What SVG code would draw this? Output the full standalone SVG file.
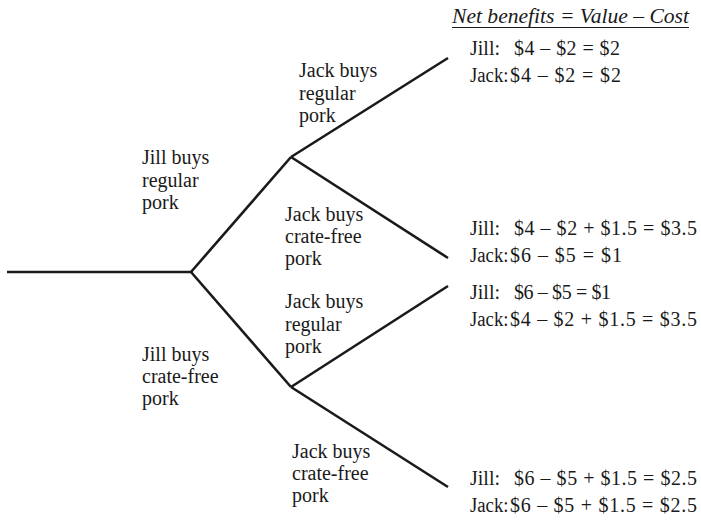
<svg xmlns="http://www.w3.org/2000/svg" width="701" height="522" viewBox="0 0 701 522">
<style>
text{font-family:"Liberation Serif","DejaVu Serif",serif;font-size:20px;fill:#1a1a1a}
.hdr{font-style:italic}
.edge{stroke:#1a1a1a;stroke-width:2.6;fill:none;stroke-linecap:butt;stroke-linejoin:miter}
</style>
<rect width="701" height="522" fill="#ffffff"/>
<g id="connectors">
<path class="edge" d="M7,272 H191"/>
<path class="edge" d="M191,272 L291,157"/>
<path class="edge" d="M191,272 L291,387"/>
<path class="edge" d="M291,157 L448,58"/>
<path class="edge" d="M291,157 L448,258"/>
<path class="edge" d="M291,387 L448,286"/>
<path class="edge" d="M291,387 L448,487"/>
</g>
<g id="header">
<text class="hdr" x="452" y="23" textLength="237" lengthAdjust="spacingAndGlyphs">Net benefits = Value – Cost</text>
<line x1="452" y1="27.5" x2="689" y2="27.5" stroke="#1a1a1a" stroke-width="1"/>
</g>
<g id="jill-regular">
<text x="142" y="164">Jill buys</text>
<text x="142" y="187">regular</text>
<text x="142" y="209">pork</text>
</g>
<g id="jill-cratefree">
<text x="142" y="361">Jill buys</text>
<text x="142" y="383">crate-free</text>
<text x="142" y="405">pork</text>
</g>
<g id="jack-regular-1">
<text x="299" y="77">Jack buys</text>
<text x="299" y="99.5">regular</text>
<text x="299" y="122">pork</text>
</g>
<g id="jack-cratefree-1">
<text x="285" y="221">Jack buys</text>
<text x="285" y="243">crate-free</text>
<text x="285" y="265">pork</text>
</g>
<g id="jack-regular-2">
<text x="285" y="308">Jack buys</text>
<text x="285" y="330.5">regular</text>
<text x="285" y="353">pork</text>
</g>
<g id="jack-cratefree-2">
<text x="292" y="458">Jack buys</text>
<text x="292" y="480">crate-free</text>
<text x="292" y="502">pork</text>
</g>
<g id="outcome-1">
<text x="470" y="55">Jill:</text>
<text x="514" y="55" textLength="106" lengthAdjust="spacing">$4 – $2 = $2</text>
<text x="470" y="82" textLength="38.5" lengthAdjust="spacingAndGlyphs">Jack:</text>
<text x="510" y="82" textLength="111" lengthAdjust="spacing">$4 – $2 = $2</text>
</g>
<g id="outcome-2">
<text x="470" y="235">Jill:</text>
<text x="514" y="235" textLength="183" lengthAdjust="spacing">$4 – $2 + $1.5 = $3.5</text>
<text x="470" y="262" textLength="38.5" lengthAdjust="spacingAndGlyphs">Jack:</text>
<text x="510" y="262" textLength="112" lengthAdjust="spacing">$6 – $5 = $1</text>
</g>
<g id="outcome-3">
<text x="470" y="299">Jill:</text>
<text x="514" y="299" textLength="97" lengthAdjust="spacing">$6 – $5 = $1</text>
<text x="470" y="326" textLength="38.5" lengthAdjust="spacingAndGlyphs">Jack:</text>
<text x="510" y="326" textLength="187" lengthAdjust="spacing">$4 – $2 + $1.5 = $3.5</text>
</g>
<g id="outcome-4">
<text x="470" y="485">Jill:</text>
<text x="514" y="485" textLength="183" lengthAdjust="spacing">$6 – $5 + $1.5 = $2.5</text>
<text x="470" y="512" textLength="38.5" lengthAdjust="spacingAndGlyphs">Jack:</text>
<text x="510" y="512" textLength="187" lengthAdjust="spacing">$6 – $5 + $1.5 = $2.5</text>
</g>
</svg>
